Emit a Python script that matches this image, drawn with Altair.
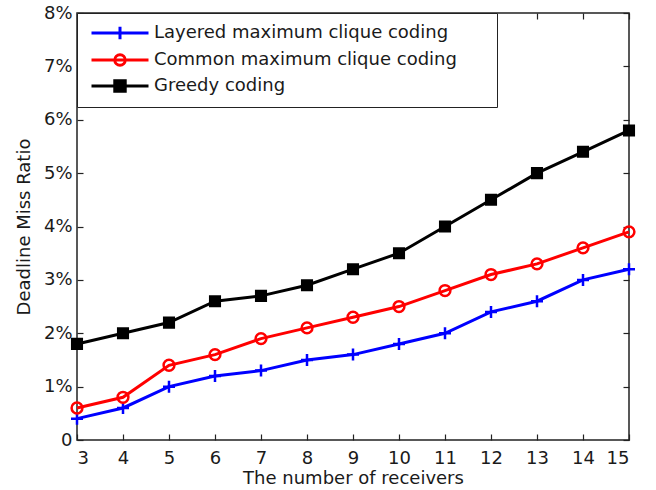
import altair as alt
import pandas as pd

# ---- data ----
receivers = list(range(3, 16))
layered = [0.4, 0.6, 1.0, 1.2, 1.3, 1.5, 1.6, 1.8, 2.0, 2.4, 2.6, 3.0, 3.2]
common = [0.6, 0.8, 1.4, 1.6, 1.9, 2.1, 2.3, 2.5, 2.8, 3.1, 3.3, 3.6, 3.9]
greedy = [1.8, 2.0, 2.2, 2.6, 2.7, 2.9, 3.2, 3.5, 4.0, 4.5, 5.0, 5.4, 5.8]
series_names = ["Layered maximum clique coding", "Common maximum clique coding", "Greedy coding"]
x_ticks = list(range(3, 16))
y_ticks = list(range(0, 9))
colors = ["#0000ff", "#ff0000", "#000000"]

rows = []
for name, vals in zip(series_names, [layered, common, greedy]):
    for r, v in zip(receivers, vals):
        rows.append({"receivers": r, "ratio": v, "series": name})
df = pd.DataFrame(rows)

FONT = "DejaVu Sans"
FS = 18
TXT = "#1a1a1a"
FRAME = "#222222"

x_scale = alt.Scale(domain=[3, 15], nice=False, zero=False)
y_scale = alt.Scale(domain=[0, 8], nice=False, zero=True)
color_scale = alt.Scale(domain=series_names, range=colors)

marker_paths = [
    "M-1,0H1M0,-1V1",
    "M-0.9,0A0.9,0.9 0 1,0 0.9,0A0.9,0.9 0 1,0 -0.9,0",
    "M-0.8,-0.8H0.8V0.8H-0.8Z M-0.5,-0.5H0.5V0.5H-0.5Z M-0.2,-0.2H0.2V0.2H-0.2Z",
]
# legend glyph: line with the marker in its middle; the trailing move-to only
# widens the legend box (nothing is drawn there)
legend_paths = [
    "M-3,0H3M0,-0.65V0.65M38.1,0",
    "M-3,0H3M-0.55,0A0.55,0.55 0 1,0 0.55,0A0.55,0.55 0 1,0 -0.55,0M38.1,0",
    "M-3,0H3M-0.55,-0.55H0.55V0.55H-0.55Z M-0.35,-0.35H0.35V0.35H-0.35Z M-0.15,-0.15H0.15V0.15H-0.15ZM38.1,0",
]

# inward ticks: axis pulled 6px into the plot, ticks 6px long pointing back to the frame
x_axis_bottom = alt.Axis(values=x_ticks, title="The number of receivers", domain=False, grid=False,
                         offset=-6, tickSize=6, labelPadding=9, titlePadding=2)
y_axis_left = alt.Axis(values=y_ticks, title="Deadline Miss Ratio", domain=False, grid=False,
                       offset=-6, tickSize=6, labelPadding=5, titlePadding=10,
                       labelExpr="datum.value == 0 ? '0' : datum.value + '%'")
x_axis_top = alt.Axis(values=x_ticks, orient="top", title=None, labels=False, domain=False,
                      grid=False, offset=-6, tickSize=6)
y_axis_right = alt.Axis(values=y_ticks, orient="right", title=None, labels=False, domain=False,
                        grid=False, offset=-6, tickSize=6)

leg = alt.Legend(title=None, orient="top-left", offset=0, padding=9, strokeColor=FRAME,
                 fillColor="white", symbolSize=361, symbolStrokeWidth=3, symbolOpacity=1,
                 symbolOffset=23, labelOffset=23, labelFontSize=FS, labelFont=FONT,
                 labelColor=TXT, labelLimit=600, rowPadding=2)

base = alt.Chart(df)

line = base.mark_line(strokeWidth=3).encode(
    x=alt.X("receivers:Q", scale=x_scale, axis=x_axis_bottom),
    y=alt.Y("ratio:Q", scale=y_scale, axis=y_axis_left),
    color=alt.Color("series:N", scale=color_scale, legend=None),
)

points = base.mark_point(filled=False, size=144, strokeWidth=2.5, opacity=1).encode(
    x=alt.X("receivers:Q", scale=x_scale, axis=None),
    y=alt.Y("ratio:Q", scale=y_scale, axis=None),
    color=alt.Color("series:N", scale=color_scale, legend=None),
    shape=alt.Shape("series:N", scale=alt.Scale(domain=series_names, range=marker_paths), legend=None),
)

legend_layer = base.transform_filter("false").mark_point(filled=False, strokeWidth=3, opacity=1).encode(
    x=alt.X("receivers:Q", scale=x_scale, axis=x_axis_top),
    y=alt.Y("ratio:Q", scale=y_scale, axis=y_axis_right),
    color=alt.Color("series:N", scale=color_scale, legend=leg),
    shape=alt.Shape("series:N", scale=alt.Scale(domain=series_names, range=legend_paths), legend=leg),
)

chart = alt.layer(line, points, legend_layer).resolve_scale(
    color="independent", shape="independent"
).resolve_axis(
    x="independent", y="independent"
).properties(
    width=552, height=427,
    padding={"left": 77, "top": 13, "right": 27, "bottom": 50},
    autosize=alt.AutoSizeParams(type="none"),
    background="white",
).configure_view(
    stroke=FRAME, strokeWidth=1.5
).configure_axis(
    labelFont=FONT, labelFontSize=FS, labelColor=TXT,
    titleFont=FONT, titleFontSize=FS, titleFontWeight="normal", titleColor=TXT,
    tickColor=FRAME, tickWidth=1.2,
)

chart.save("out.html", embed_options={"renderer": "svg", "actions": False})
